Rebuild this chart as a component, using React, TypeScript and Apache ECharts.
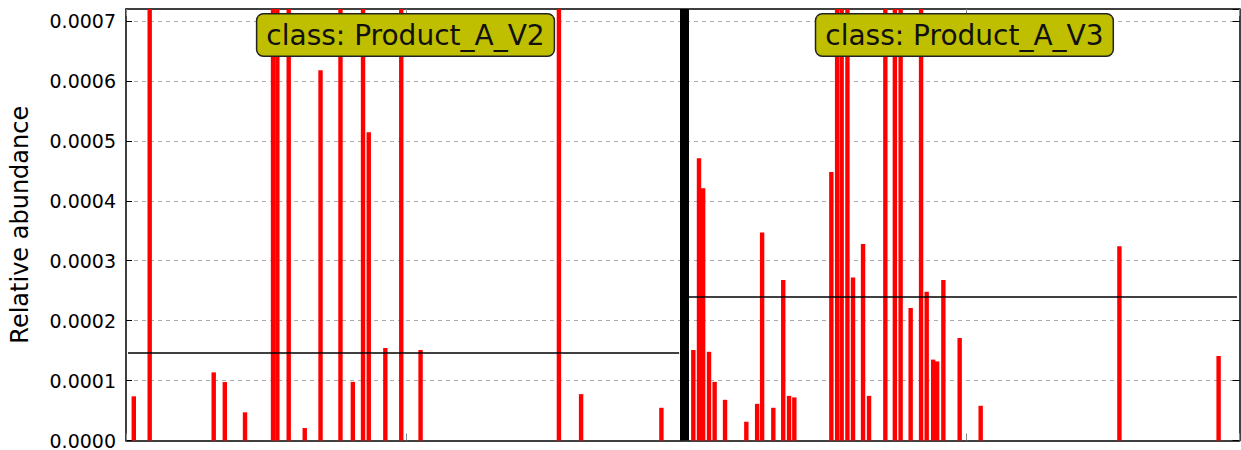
import React, { useEffect, useRef } from "react";
import * as echarts from "echarts";

// Sample positions (x, in sample-index units) and relative abundances
const leftPositions = [1.39, 4.23, 15.66, 17.64, 21.25, 26.25, 27.02, 29.05, 31.91, 34.73, 38.29, 40.5, 42.32, 43.34, 46.3, 49.14, 52.59, 77.29, 81.25, 95.59];
const leftValues = [0.0000737, 0.0021, 0.0001137, 0.0000975, 0.000047, 0.0014, 0.0012, 0.0016, 0.0000208, 0.000618, 0.0011, 0.0000978, 0.0018, 0.0005145, 0.0001544, 0.0013, 0.000151, 0.001, 0.0000774, 0.0000546];

const rightPositions = [101.29, 102.3, 103.04, 104.09, 105.09, 106.95, 110.75, 112.68, 113.57, 115.57, 117.34, 118.38, 119.32, 125.93, 126.96, 127.77, 128.8, 129.8, 131.59, 132.66, 135.57, 137.27, 138.3, 140.09, 141.95, 142.95, 144.11, 144.82, 145.93, 148.84, 152.59, 177.36, 195.07];
const rightValues = [0.000151, 0.000471, 0.000421, 0.000148, 0.0000978, 0.0000679, 0.0000313, 0.0000612, 0.000347, 0.0000546, 0.000268, 0.0000745, 0.0000719, 0.000448, 0.0031, 0.0024, 0.0029, 0.000272, 0.000328, 0.0000745, 0.0022, 0.0035, 0.002, 0.000221, 0.0026, 0.000248, 0.000135, 0.000132, 0.000268, 0.000171, 0.0000579, 0.000324, 0.000141];

const classNames = ["Product_A_V2", "Product_A_V3"];
const classMeans = [0.0001468, 0.00024];
const classSpans = [[0.36, 98.75], [100.36, 198.34]];
const separatorX = 99.61;

const X_MAX = 198.8;
const Y_MAX = 0.00072;
const Y_STEP = 0.0001;

const FONT = "'DejaVu Sans', sans-serif";

export default function App() {
  const ref = useRef<HTMLDivElement>(null);
  useEffect(() => {
    if (!ref.current) return;
    const chart = echarts.init(ref.current, undefined, { renderer: "svg" });
    const barData = [
      ...leftPositions.map((x, i) => [x, leftValues[i]]),
      ...rightPositions.map((x, i) => [x, rightValues[i]]),
    ];
    const fmt = (v: number) => {
      const k = v / Y_STEP;
      if (Math.abs(k - Math.round(k)) > 1e-6) return "";
      return v.toFixed(4);
    };
    const xAxisBase = {
      type: "value",
      min: 0,
      max: X_MAX,
      interval: 50,
      axisLine: { show: true, onZero: false, lineStyle: { color: "#000", width: 1.5 } },
      axisTick: { show: true, inside: true, length: 7, lineStyle: { color: "#888" } },
      axisLabel: { show: false },
      splitLine: { show: false },
    };
    chart.setOption({
      animation: false,
      backgroundColor: "#ffffff",
      grid: {
        left: 126,
        right: 1.5,
        top: 9,
        bottom: 8.5,
        show: false,
      },
      xAxis: [
        { ...xAxisBase, position: "bottom" },
        { ...xAxisBase, position: "top" },
      ],
      yAxis: [
        {
          type: "value",
          position: "left",
          min: 0,
          max: Y_MAX,
          interval: Y_STEP,
          name: "Relative abundance",
          nameLocation: "middle",
          nameGap: 94,
          nameTextStyle: { fontFamily: FONT, fontSize: 24, color: "#000" },
          axisLine: { show: true, onZero: false, lineStyle: { color: "#000", width: 1.5 } },
          axisTick: { show: true, inside: true, length: 6, lineStyle: { color: "#000" } },
          axisLabel: {
            show: true,
            formatter: fmt,
            fontFamily: FONT,
            fontSize: 19,
            color: "#000",
            margin: 10,
            showMaxLabel: false,
          },
          splitLine: {
            show: true,
            showMinLine: false,
            showMaxLine: false,
            lineStyle: { color: "#aaaaaa", type: [4, 4], width: 1 },
          },
        },
        {
          type: "value",
          position: "right",
          min: 0,
          max: Y_MAX,
          interval: Y_STEP,
          axisLine: { show: true, onZero: false, lineStyle: { color: "#000", width: 1.5 } },
          axisTick: { show: true, inside: true, length: 7, lineStyle: { color: "#000" } },
          axisLabel: { show: false },
          splitLine: { show: false },
        },
      ],
      series: [
        {
          type: "bar",
          xAxisIndex: 0,
          yAxisIndex: 0,
          data: barData,
          barWidth: 4.4,
          clip: true,
          itemStyle: { color: "#ff0000" },
          markLine: {
            silent: true,
            symbol: ["none", "none"],
            label: { show: false },
            data: [
              [
                { coord: [classSpans[0][0], classMeans[0]], lineStyle: { color: "#000", width: 1.5, type: "solid" } },
                { coord: [classSpans[0][1], classMeans[0]] },
              ],
              [
                { coord: [classSpans[1][0], classMeans[1]], lineStyle: { color: "#000", width: 1.5, type: "solid" } },
                { coord: [classSpans[1][1], classMeans[1]] },
              ],
              { xAxis: separatorX, lineStyle: { color: "#000", width: 9, type: "solid" } },
            ],
          },
        },
      ],
      graphic: [0, 1].map((i) => ({
        type: "text",
        x: i === 0 ? 405.5 : 964.4,
        y: 35,
        z: 100,
        style: {
          text: "class: " + classNames[i],
          font: "28px " + FONT,
          fill: "#111",
          align: "center",
          verticalAlign: "middle",
          textAlign: "center",
          textVerticalAlign: "middle",
          backgroundColor: "#bfbf00",
          borderColor: "#222",
          borderWidth: 1.5,
          borderRadius: 6,
          padding: [7, 9, 6, 9],
        },
      })),
    });
    return () => chart.dispose();
  }, []);
  return (
    <div
      ref={ref}
      style={{ position: "fixed", left: 0, top: 0, width: 1241, height: 450, background: "#fff" }}
    />
  );
}
